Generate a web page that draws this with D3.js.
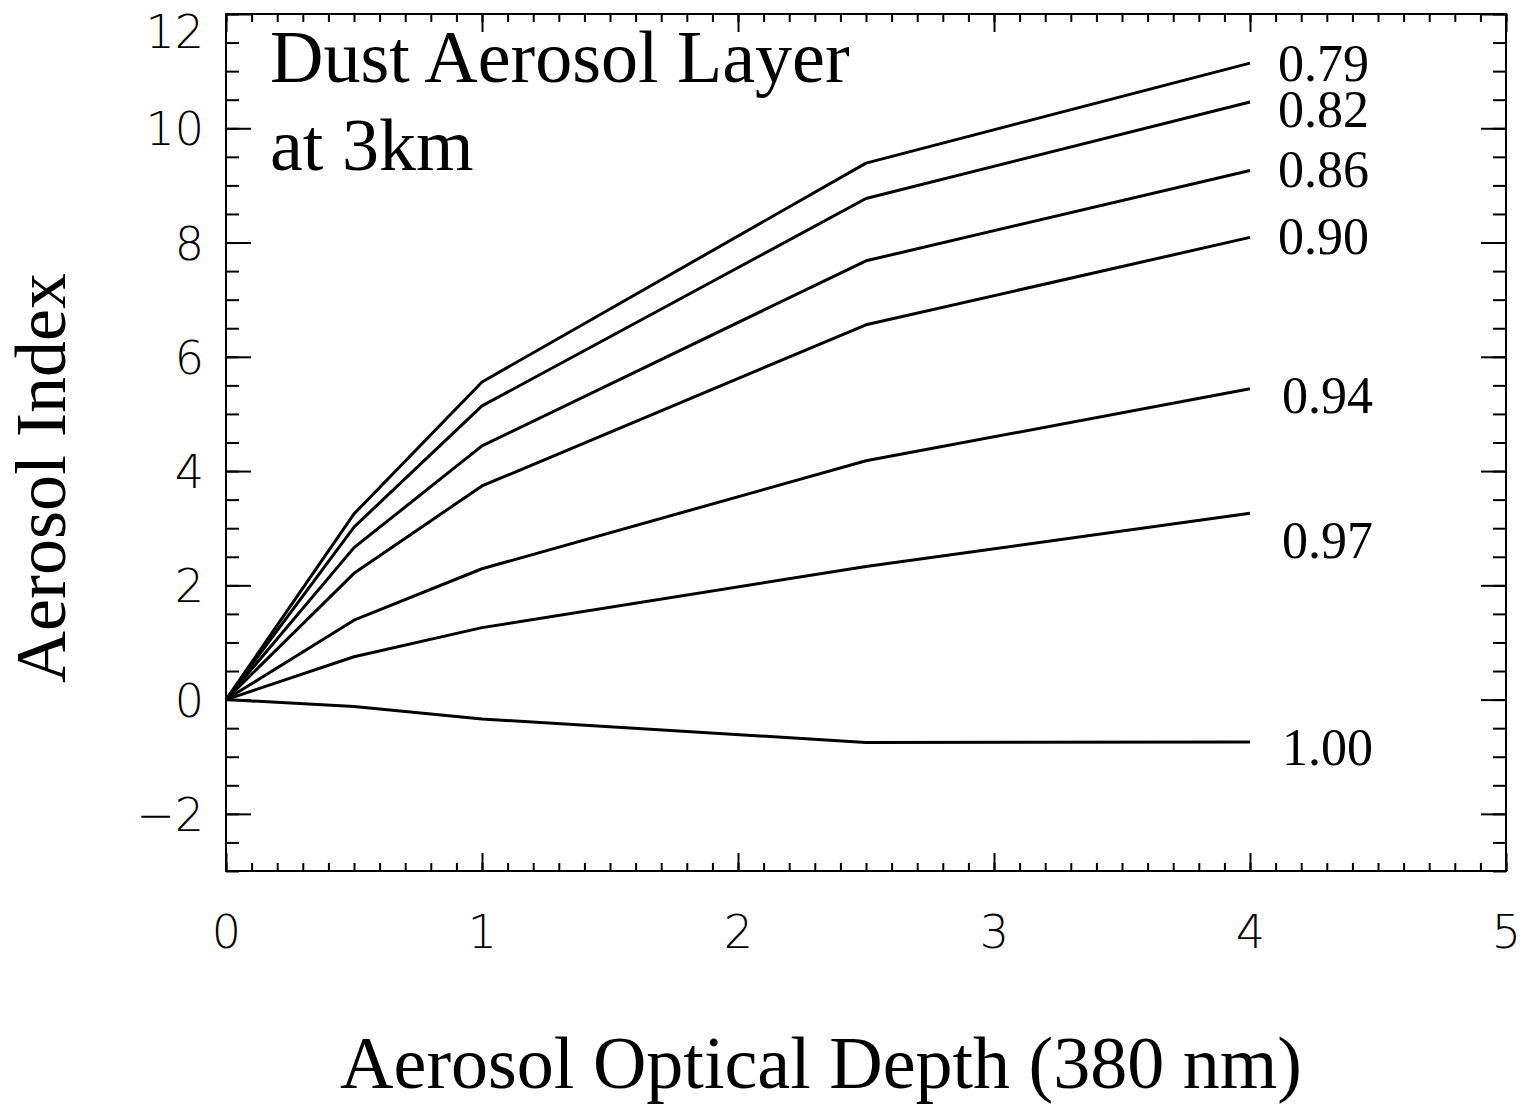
<!DOCTYPE html>
<html>
<head>
<meta charset="utf-8">
<script src="https://cdn.jsdelivr.net/npm/d3@7"></script>
<style>
body{margin:0;background:#fff}
.tick text{font-family:"DejaVu Sans";font-weight:200}
</style>
</head>
<body>
<div id="chart"></div>
<script>
var aod = [0, 0.5, 1, 2.5, 4]
var ssaLabels = ["0.79", "0.82", "0.86", "0.90", "0.94", "0.97", "1.00"]
var ai079 = [0, 3.25, 5.56, 9.39, 11.14]
var ai082 = [0, 3.02, 5.14, 8.77, 10.46]
var ai086 = [0, 2.66, 4.44, 7.68, 9.26]
var ai090 = [0, 2.21, 3.74, 6.56, 8.09]
var ai094 = [0, 1.39, 2.29, 4.18, 5.44]
var ai097 = [0, 0.75, 1.26, 2.33, 3.26]
var ai100 = [0, -0.12, -0.34, -0.75, -0.74]
var xTicks = [0, 1, 2, 3, 4, 5]
var yTicks = [-2, 0, 2, 4, 6, 8, 10, 12]

var series = [ai079, ai082, ai086, ai090, ai094, ai097, ai100]
// label baselines (data units) next to the line ends, and x shift
var labelY = [10.82, 10.02, 8.97, 7.80, 5.02, 2.47, -1.15]
var labelDx = [28, 28, 28, 28, 32, 32, 32]

var W = 1524, H = 1107
var m = {l:226, r:1506, t:14, b:871}

var svg = d3.select("#chart").append("svg").attr("width",W).attr("height",H)

var x = d3.scaleLinear().domain([0,5]).range([m.l,m.r])
var y = d3.scaleLinear().domain([-3,12]).range([m.b,m.t])

var xMinor = d3.range(0,5.001,0.1)
var yMinor = d3.range(-3,12.001,0.5)

function axis(g, gen, pos){ g.attr("transform",pos).call(gen).call(function(a){a.select(".domain").remove(); a.selectAll("line").attr("stroke","#000").attr("stroke-width",2)}) }

// minor ticks on four sides
axis(svg.append("g"), d3.axisBottom(x).tickValues(xMinor).tickSize(-8).tickFormat(""), "translate(0,"+m.b+")")
axis(svg.append("g"), d3.axisTop(x).tickValues(xMinor).tickSize(-8).tickFormat(""), "translate(0,"+m.t+")")
axis(svg.append("g"), d3.axisLeft(y).tickValues(yMinor).tickSize(-13).tickFormat(""), "translate("+m.l+",0)")
axis(svg.append("g"), d3.axisRight(y).tickValues(yMinor).tickSize(-13).tickFormat(""), "translate("+m.r+",0)")

// major ticks
axis(svg.append("g"), d3.axisTop(x).tickValues(xTicks).tickSize(-18).tickFormat(""), "translate(0,"+m.t+")")
axis(svg.append("g"), d3.axisRight(y).tickValues(yTicks).tickSize(-25).tickFormat(""), "translate("+m.r+",0)")
var xa = svg.append("g")
axis(xa, d3.axisBottom(x).tickValues(xTicks).tickSize(-18).tickPadding(44).tickFormat(d3.format("d")), "translate(0,"+m.b+")")
xa.selectAll("text").attr("font-size",46).attr("fill","#000")
var ya = svg.append("g")
axis(ya, d3.axisLeft(y).tickValues(yTicks).tickSize(-25).tickPadding(22).tickFormat(function(d){return d<0?"\u2212"+(-d):d}), "translate("+m.l+",0)")
ya.selectAll("text").attr("font-size",46).attr("fill","#000").attr("dy",function(d){return d==12?"0.72em":"0.36em"})

svg.append("rect").attr("x",m.l).attr("y",m.t).attr("width",m.r-m.l).attr("height",m.b-m.t)
	.attr("fill","none").attr("stroke","#000").attr("stroke-width",2)

var line = d3.line().x(function(d,i){return x(aod[i])}).y(function(d){return y(d)})

svg.selectAll(".curve").data(series).enter().append("path").attr("class","curve")
	.attr("d",line).attr("fill","none").attr("stroke","#000").attr("stroke-width",3).attr("stroke-linejoin","round")

svg.selectAll(".lab").data(ssaLabels).enter().append("text").attr("class","lab")
	.attr("x",function(d,i){return x(4)+labelDx[i]})
	.attr("y",function(d,i){return y(labelY[i])})
	.attr("font-family","Liberation Serif").attr("font-size",52).text(function(d){return d})

svg.append("text").attr("x",270).attr("y",82).attr("font-family","Liberation Serif").attr("font-size",74).text("Dust Aerosol Layer")
svg.append("text").attr("x",270).attr("y",170).attr("font-family","Liberation Serif").attr("font-size",74).text("at 3km")

svg.append("text").attr("x",821).attr("y",1088).attr("text-anchor","middle")
	.attr("font-family","Liberation Serif").attr("font-size",74).text("Aerosol Optical Depth (380 nm)")
svg.append("text").attr("transform","translate(65,478) rotate(-90)").attr("text-anchor","middle")
	.attr("font-family","Liberation Serif").attr("font-size",72).text("Aerosol Index")
</script>
</body>
</html>
